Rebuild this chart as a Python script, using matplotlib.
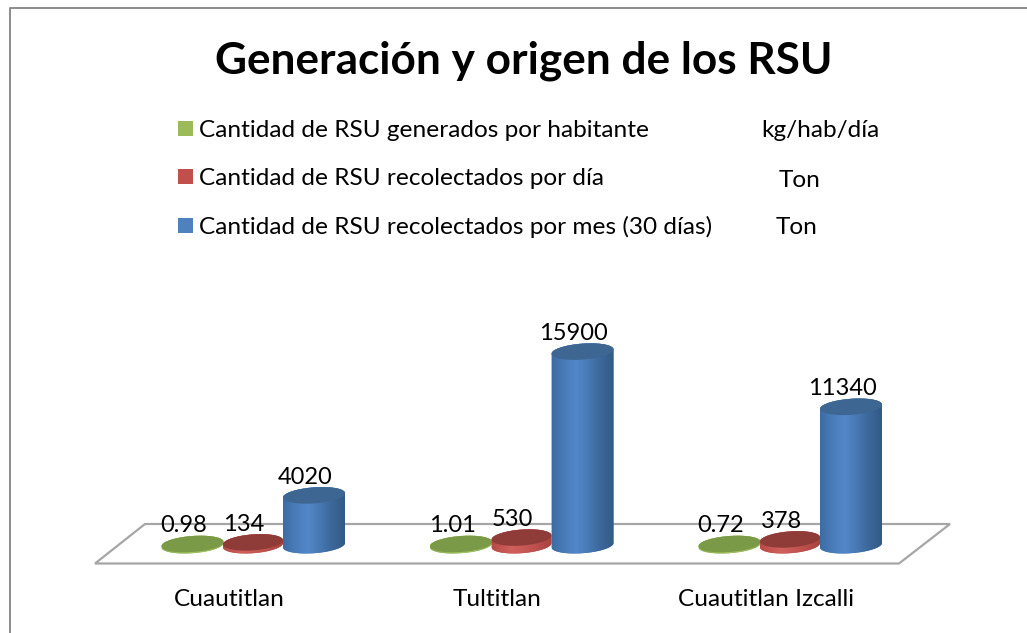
import numpy as np
import matplotlib
matplotlib.use("Agg")
import matplotlib.pyplot as plt
from matplotlib.colors import LinearSegmentedColormap
from matplotlib.lines import Line2D
from matplotlib.patches import Polygon, Rectangle

categories = ["Cuautitlan", "Tultitlan", "Cuautitlan Izcalli"]
generados_hab = [0.98, 1.01, 0.72]
recolectados_dia = [134, 530, 378]
recolectados_mes = [4020, 15900, 11340]
series_names = ["Cantidad de RSU generados por habitante",
                "Cantidad de RSU recolectados por día",
                "Cantidad de RSU recolectados por mes (30 días)"]
units = ["kg/hab/día", "Ton", "Ton"]

W, H = 1027, 633
PX_X = 268.5   # pixeles por categoria
PX_Y = 0.0121  # pixeles por unidad
X0, Y0 = 253, 544

plt.rcParams['font.family'] = ['Lato', 'DejaVu Sans']
fig = plt.figure(figsize=(W / 100, H / 100), dpi=100)
ax = fig.add_axes([0, 0, 1, 1])
ax.axis('off')


def fx(px):
    return (px - X0) / PX_X


def fy(py):
    return (Y0 - py) / PX_Y


# marco
fig.add_artist(Line2D([10 / W, 10 / W, 1], [0, 1 - 7.5 / H, 1 - 7.5 / H],
                      color='#8c8c8c', lw=1.4))

# piso
floor_px = [(95, 563.5), (899, 563.5), (950, 524), (145, 524)]
ax.add_patch(Polygon([(fx(a), fy(b)) for a, b in floor_px], closed=True,
                     facecolor='white', edgecolor='#a6a6a6', lw=1.6, zorder=1))

z = 2


def cylinder(x, v, width_px, cmap, top_color, rim_color):
    global z
    a, b = width_px / 2, 8
    tilt = np.tan(np.radians(4))
    t = np.linspace(0, 2 * np.pi, 120)
    ex = a * np.cos(t)
    ey = b * np.sin(t) + ex * tilt
    dx, dy = ex / PX_X, ey / PX_Y
    low = t >= np.pi
    up = t <= np.pi
    rim = 1.2 / PX_Y
    bx = np.r_[x + dx[low], x + dx[up]]
    by = np.r_[-rim + dy[low], v + dy[up]]
    body = Polygon(np.c_[bx, by], closed=True, facecolor=rim_color, edgecolor='none', zorder=z)
    ax.add_patch(body)
    grad = np.linspace(0, 1, 256).reshape(1, -1)
    im = ax.imshow(grad, extent=[x - a / PX_X, x + a / PX_X, -30 / PX_Y, v + 30 / PX_Y],
                   aspect='auto', cmap=cmap, interpolation='bilinear', zorder=z + 0.1)
    im.set_clip_path(body)
    ax.add_patch(Polygon(np.c_[x + dx, v + dy], closed=True,
                         facecolor=top_color, edgecolor='none', zorder=z + 0.2))
    z += 1


blue_cmap = LinearSegmentedColormap.from_list(
    'b', ['#3d6ca3', '#4a7cb9', '#5287c9', '#4778b2', '#3b6698', '#335a86'])
red_cmap = LinearSegmentedColormap.from_list('r', ['#b84a47', '#d0605c', '#c05350', '#a84340'])
green_cmap = LinearSegmentedColormap.from_list('g', ['#8fae52', '#a3c363', '#8fae52'])

series = [
    (generados_hab, -60.5, 62, green_cmap, '#7b9a47', '#9bbb59'),
    (recolectados_dia, 0, 60, red_cmap, '#8f3c39', '#c0504d'),
    (recolectados_mes, 61, 62, blue_cmap, '#3d6693', '#4f81bd'),
]

for i in range(len(categories)):
    for values, off, width, cmap, top_c, rim_c in series:
        x = i + off / PX_X
        cylinder(x, values[i], width, cmap, top_c, rim_c)
        ax.annotate(str(values[i]), xy=(x, values[i]), xytext=(-9 * 0.72, 18 * 0.72),
                    textcoords='offset points', ha='center', va='center',
                    fontsize=17, color='black', zorder=50)
    ax.text(i - 24 / PX_X, fy(600), categories[i], ha='center', va='center',
            fontsize=17.6, color='black')

ax.set_xlim(fx(0), fx(W))
ax.set_ylim(fy(H), fy(0))

fig.text(524 / W, 1 - 61 / H, "Generación y origen de los RSU", ha='center', va='center',
         fontsize=31.8, fontweight='bold', color='black')

# leyenda
handles = [Rectangle((0, 0), 1, 1, facecolor=c) for c in ['#9bbb59', '#c0504d', '#4f81bd']]
ax.legend(handles, series_names, loc='upper left', bbox_to_anchor=(178 / W, 1 - 120 / H),
          frameon=False, fontsize=17.6, handlelength=0.61, handleheight=0.61,
          handletextpad=0.25, labelspacing=1.107, borderpad=0, borderaxespad=0)

unit_pos = [(820, 130), (800, 180), (797, 228)]
for u, (a, b) in zip(units, unit_pos):
    fig.text(a / W, 1 - b / H, u, ha='center', va='center', fontsize=17.6, color='black')

fig.savefig("out.png", dpi=100)
